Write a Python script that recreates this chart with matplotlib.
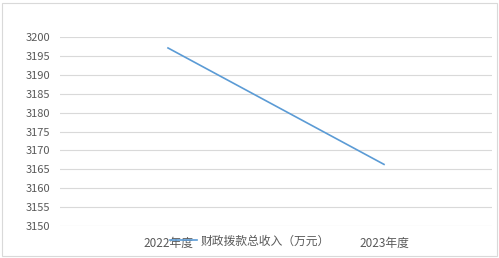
import matplotlib.pyplot as plt
from matplotlib.patches import Rectangle

plt.rcParams['font.family'] = ['Noto Sans CJK SC', 'DejaVu Sans']

years = ['2022年度', '2023年度']
income = [3197.1, 3166.3]
series_name = '财政拨款总收入（万元）'

fig = plt.figure(figsize=(4.99, 2.58), dpi=100)
ax = fig.add_axes([60/499, 32/258, 432/499, 189/258])

ax.plot([0, 1], income, color='#5b9bd5', lw=1.2, label=series_name)
ax.set_xlim(-0.5, 1.5)
ax.set_ylim(3150, 3200)
ax.set_yticks(range(3150, 3201, 5))
ax.set_xticks([0, 1])
ax.set_xticklabels(years)
ax.grid(axis='y', color='#d9d9d9', lw=0.8)
ax.set_axisbelow(True)
for s in ax.spines.values():
    s.set_visible(False)
ax.tick_params(length=0, labelsize=8, colors='#595959', pad=7)
ax.tick_params(axis='x', labelsize=8.5, pad=8)

fig.legend(loc='center', bbox_to_anchor=(250/499, 1 - 241/258), frameon=False,
           fontsize=8.5, labelcolor='#595959', handlelength=2.3, handletextpad=0.35)

fig.patches.append(Rectangle((2/499, 2/258), 495/499, 253/258, transform=fig.transFigure,
                             fill=False, edgecolor='#d9d9d9', lw=0.8))

fig.savefig('out.png', dpi=100)
